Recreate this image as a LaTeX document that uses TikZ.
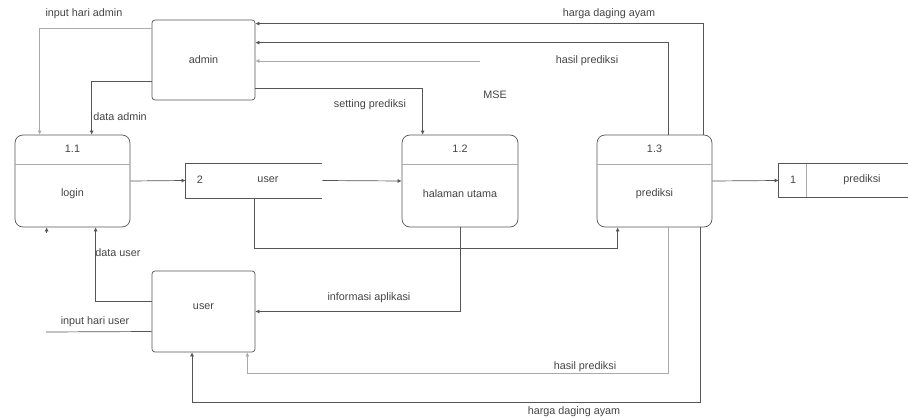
\documentclass[tikz,border=0pt]{standalone}
\usepackage{fontspec}
\setmainfont{Liberation Sans}
\usetikzlibrary{arrows.meta}
\definecolor{linegray}{HTML}{555555}
\definecolor{lightgray}{HTML}{AAAAAA}
\definecolor{textgray}{HTML}{444444}
\begin{document}
\begin{tikzpicture}[x=1pt,y=-1pt,line width=0.7pt,
  proc/.style={rectangle, rounded corners=8pt, draw=linegray, minimum width=115pt, minimum height=92pt},
  ext/.style={rectangle, rounded corners=3pt, draw=linegray, minimum width=103pt, minimum height=80pt},
  store/.style={rectangle, minimum height=34pt},
  txt/.style={text=textgray, font=\fontsize{10.8}{12}\selectfont, inner sep=1pt},
  flow/.style={draw=linegray, -{Latex[length=4pt,width=4pt]}},
  lflow/.style={draw=lightgray, -{Latex[length=4pt,width=4pt]}}]
\useasboundingbox (0,0) rectangle (908,420);
\node[ext](admin) at (203.5,60) {};
\node[txt](admint) at (203.5,60) {admin};
\node[ext, minimum height=81pt](usr) at (203.5,311.5) {};
\node[txt](usrt) at (203.5,307) {user};
\node[proc](p11) at (72.5,181) {};
\draw[lightgray] ([yshift=-30pt]p11.north west) -- ([yshift=-30pt]p11.north east);
\node[txt](p11n) at (72.5,149) {1.1};
\node[txt](p11t) at (72.5,194) {login};
\node[proc, minimum width=116pt](p12) at (460,181) {};
\draw[lightgray] ([yshift=-30pt]p12.north west) -- ([yshift=-30pt]p12.north east);
\node[txt](p12n) at (460,149) {1.2};
\node[txt](p12t) at (460,194) {halaman utama};
\node[proc](p13) at (654.5,181) {};
\draw[lightgray] ([yshift=-30pt]p13.north west) -- ([yshift=-30pt]p13.north east);
\node[txt](p13n) at (654.5,149) {1.3};
\node[txt](p13t) at (654.5,194) {prediksi};
\node[store, minimum width=136pt](ds2) at (254,180.5) {};
\draw[linegray] (ds2.north east) -- (ds2.north west) -- (ds2.south west) -- (ds2.south east);
\node[txt](ds2n) at (200,180) {2};
\node[txt](ds2t) at (268,180) {user};
\node[store, minimum width=129pt, minimum height=33pt](ds1) at (843.5,180.5) {};
\draw[linegray] (ds1.north east) -- (ds1.north west) -- (ds1.south west) -- (ds1.south east);
\draw[lightgray] ([xshift=28pt]ds1.north west) -- ([xshift=28pt]ds1.south west);
\node[txt](ds1n) at (793,180) {1};
\node[txt](ds1t) at (862,180) {prediksi};
\coordinate (mse) at (480,61);
\coordinate (iu) at (46,332);
\draw[lflow] ([yshift=-9pt]admin.north west) -| ([xshift=25pt]p11.north west);
\node[txt](l1) at (84,14) {input hari admin};
\draw[flow] ([yshift=-62pt]admin.north west) -| ([xshift=77pt]p11.north west);
\node[txt](l2) at (120,117) {data admin};
\draw[flow] ([xshift=-9pt]p13.north east) |- ([yshift=-4pt]admin.north east);
\node[txt](l3) at (609,14) {harga daging ayam};
\draw[flow] ([xshift=-44pt]p13.north east) |- ([yshift=-23pt]admin.north east);
\node[txt](l4) at (587,61) {hasil prediksi};
\draw[lflow] (mse) -- (mse -| admin.east);
\node[txt](l5) at (495,95) {MSE};
\draw[flow] ([yshift=-69pt]admin.north east) -| ([xshift=21pt]p12.north west);
\node[txt](l6) at (370,105) {setting prediksi};
\draw[flow] (p11.east) -- (ds2.west);
\draw[flow] (ds2.east) -- (p12.west);
\draw[flow] (ds2.south) |- ([xshift=21pt,yshift=-21pt]p13.south west) -- ([xshift=21pt]p13.south west);
\draw[flow] (p13.east) -- (ds1.west);
\draw[flow] ([yshift=10pt]usr.west) -| ([xshift=81pt]p11.south west);
\node[txt](l7) at (118,253) {data user};
\draw[linegray] ([yshift=-20pt]usr.west) -- (iu);
\node[txt](l8) at (95,322) {input hari user};
\draw[flow] ([xshift=32pt,yshift=-6pt]p11.south west) -- ([xshift=32pt]p11.south west);
\draw[flow] (p12.south) |- (usr.east);
\node[txt](l9) at (369,298) {informasi aplikasi};
\draw[lflow] ([xshift=-44pt]p13.south east) |- ([xshift=-8pt,yshift=-21pt]usr.south east) -- ([xshift=-8pt]usr.south east);
\node[txt](l10) at (585,367) {hasil prediksi};
\draw[flow] ([xshift=-12pt]p13.south east) |- ([xshift=-11.5pt,yshift=-50pt]usr.south) -- ([xshift=-11.5pt]usr.south);
\node[txt](l11) at (574,412) {harga daging ayam};
\end{tikzpicture}
\end{document}
